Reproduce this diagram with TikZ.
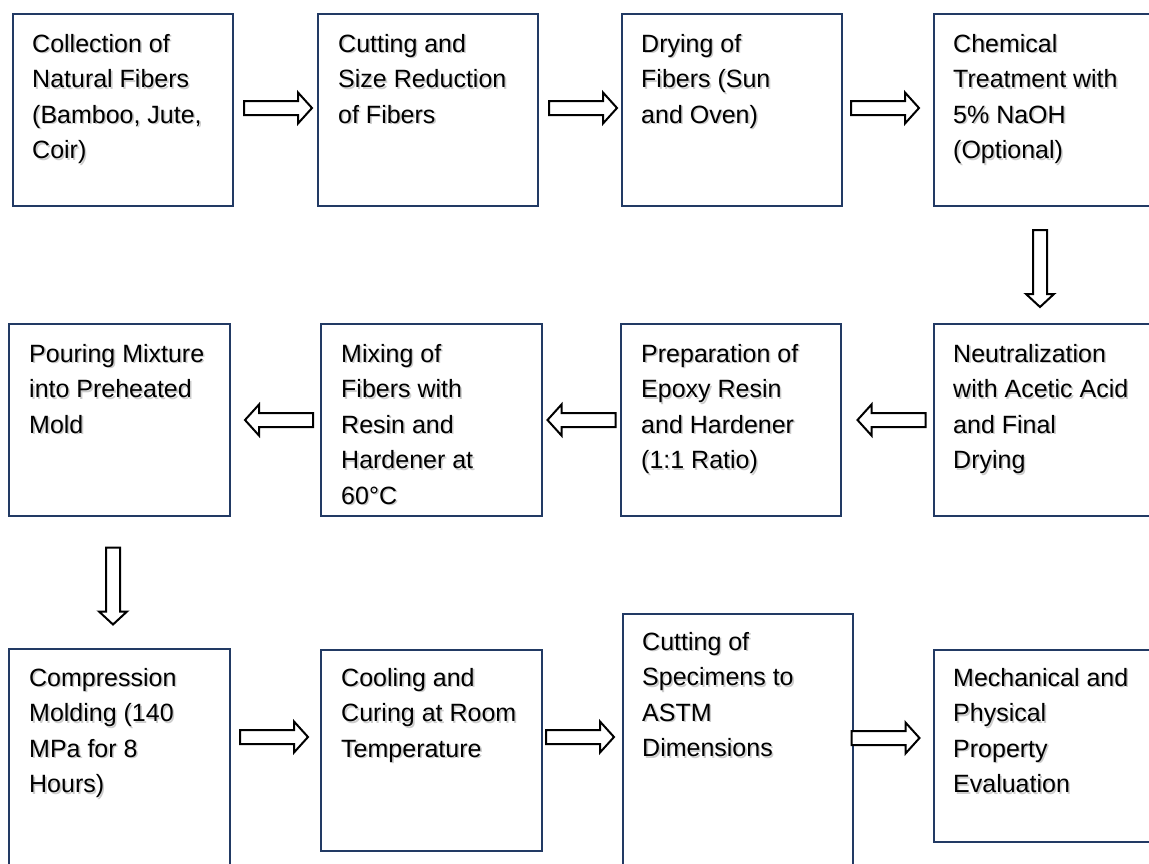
\documentclass[tikz,border=0pt]{standalone}
\usepackage{fontspec}
\setmainfont{Liberation Sans}
\usetikzlibrary{calc}
\definecolor{boxblue}{RGB}{34,58,100}
\tikzset{
  stepbox/.style={draw=boxblue, line width=2pt, inner sep=0pt, anchor=north west},
  txt/.style={anchor=north west, align=left, inner sep=0pt, font=\fontsize{25}{35.5}\selectfont},
  blockarrow/.style={draw=black, line width=2pt, fill=white, line join=miter},
  hbarrow/.pic={\draw[blockarrow] (-34,-7) -- (20,-7) -- (20,-15.5) -- (34,0) -- (20,15.5) -- (20,7) -- (-34,7) -- cycle;},
  vbarrow/.pic={\draw[blockarrow] (-7,-38.5) -- (7,-38.5) -- (7,25.5) -- (14,25.5) -- (0,38.5) -- (-14,25.5) -- (-7,25.5) -- cycle;},
}
\newcommand\steptext[3]{%
  \node[txt, text=black!20] at ($(#2)+(1.6,1.6)$) {#3};
  \node[txt] (#1) at (#2) {#3};}
\begin{document}
\begin{tikzpicture}[x=1pt, y=-1pt]
\useasboundingbox (0,0) rectangle (1149,863);
\clip (0,0) rectangle (1149,863);
\fill[white] (0,0) rectangle (1149,863);
% boxes
\node[stepbox, minimum width=220pt, minimum height=192pt] (b1) at (12,13) {};
\node[stepbox, minimum width=220pt, minimum height=192pt] (b2) at (317,13) {};
\node[stepbox, minimum width=220pt, minimum height=192pt] (b3) at (621,13) {};
\node[stepbox, minimum width=240pt, minimum height=192pt] (b4) at (933,13) {};
\node[stepbox, minimum width=221pt, minimum height=192pt] (b5) at (8,323) {};
\node[stepbox, minimum width=221pt, minimum height=192pt] (b6) at (320,323) {};
\node[stepbox, minimum width=220pt, minimum height=192pt] (b7) at (620,323) {};
\node[stepbox, minimum width=240pt, minimum height=192pt] (b8) at (933,323) {};
\node[stepbox, minimum width=221pt, minimum height=240pt] (b9) at (8,648) {};
\node[stepbox, minimum width=221pt, minimum height=201pt] (b10) at (320,649) {};
\node[stepbox, minimum width=230pt, minimum height=270pt] (b11) at (622,613) {};
\node[stepbox, minimum width=240pt, minimum height=192pt] (b12) at (933,649) {};
% texts
\steptext{t1}{32,34}{Collection of\\Natural Fibers\\(Bamboo, Jute,\\Coir)}
\steptext{t2}{338,34}{Cutting and\\Size Reduction\\of Fibers}
\steptext{t3}{641,34}{Drying of\\Fibers (Sun\\and Oven)}
\steptext{t4}{953,34}{Chemical\\Treatment with\\5\% NaOH\\(Optional)}
\steptext{t5}{29,344}{Pouring Mixture\\into Preheated\\Mold}
\steptext{t6}{341,344}{Mixing of\\Fibers with\\Resin and\\Hardener at\\60°C}
\steptext{t7}{641,344}{Preparation of\\Epoxy Resin\\and Hardener\\(1:1 Ratio)}
\steptext{t8}{953,344}{Neutralization\\with Acetic Acid\\and Final\\Drying}
\steptext{t9}{29,668}{Compression\\Molding (140\\MPa for 8\\Hours)}
\steptext{t10}{341,668}{Cooling and\\Curing at Room\\Temperature}
\steptext{t11}{642,632}{Cutting of\\Specimens to\\ASTM\\Dimensions}
\steptext{t12}{953,668}{Mechanical and\\Physical\\Property\\Evaluation}
% arrow positions
\coordinate (a12) at ($(b1.east)!0.5!(b2.west)+(2.5,-2)$);
\coordinate (a23) at ($(b2.east)!0.5!(b3.west)+(3,-2)$);
\coordinate (a34) at ($(b3.east)!0.5!(b4.west)+(-3,-2)$);
\coordinate (a48) at (1040,268.5);
\coordinate (a87) at ($(b7.east)!0.5!(b8.west)+(4,0)$);
\coordinate (a76) at ($(b6.east)!0.5!(b7.west)$);
\coordinate (a65) at ($(b5.east)!0.5!(b6.west)+(3.5,0)$);
\coordinate (a59) at (113,586);
\coordinate (a910) at ($(b9.east)!0.5!(b10.west)+(-1.5,0)$);
\coordinate (a1011) at ($(b10.east)!0.5!(b11.west)+(-2.5,0)$);
\coordinate (a1112) at ($(b11.east)!0.5!(b12.west)+(-8,0)$);
% arrows
\pic at (a12) {hbarrow};
\pic at (a23) {hbarrow};
\pic at (a34) {hbarrow};
\pic at (a48) {vbarrow};
\pic[xscale=-1] at (a87) {hbarrow};
\pic[xscale=-1] at (a76) {hbarrow};
\pic[xscale=-1] at (a65) {hbarrow};
\pic at (a59) {vbarrow};
\pic at (a910 |- 0,737) {hbarrow};
\pic at (a1011 |- 0,737) {hbarrow};
\pic at (a1112 |- 0,738) {hbarrow};
\end{tikzpicture}
\end{document}
